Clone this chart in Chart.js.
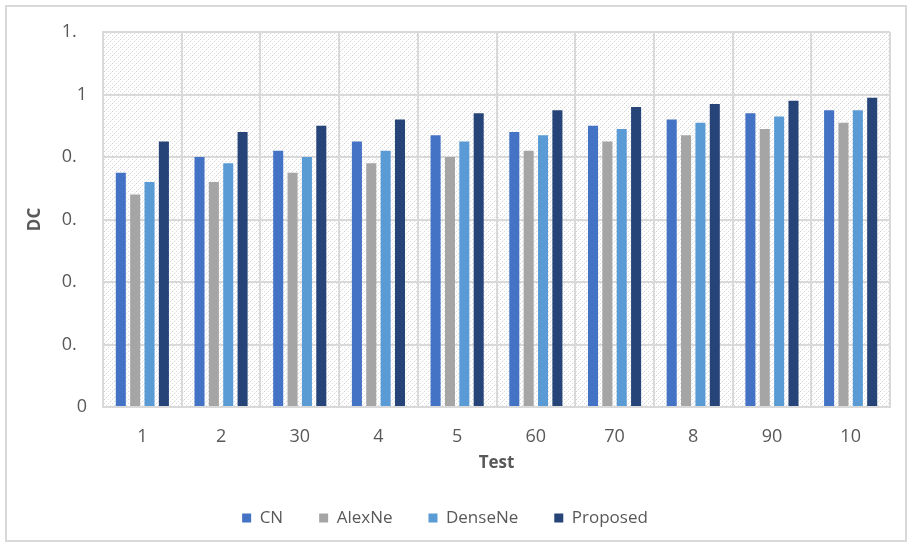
<!DOCTYPE html>
<html>
<head>
<meta charset="utf-8">
<script src="https://cdn.jsdelivr.net/npm/chart.js@4.4.1/dist/chart.umd.min.js"></script>
<style>
  html, body { margin: 0; padding: 0; background: #ffffff; }
  #wrap { width: 912px; height: 546px; position: relative; }
</style>
</head>
<body>
<div id="wrap"><canvas id="c" width="912" height="546"></canvas></div>
<script>
// Categories and series
const categories = ['1', '2', '30', '4', '5', '60', '70', '8', '90', '10'];
const cnValues       = [0.75, 0.80, 0.82, 0.85, 0.87, 0.88, 0.90, 0.92, 0.94, 0.95];
const alexNeValues   = [0.68, 0.72, 0.75, 0.78, 0.80, 0.82, 0.85, 0.87, 0.89, 0.91];
const denseNeValues  = [0.72, 0.78, 0.80, 0.82, 0.85, 0.87, 0.89, 0.91, 0.93, 0.95];
const proposedValues = [0.85, 0.88, 0.90, 0.92, 0.94, 0.95, 0.96, 0.97, 0.98, 0.99];
const seriesNames = ['CN', 'AlexNe', 'DenseNe', 'Proposed'];
// y tick labels, bottom to top
const yTickLabels = ['0', '0.', '0.', '0.', '0.', '1', '1.'];

const TEXT = '#595959';
const GRID = '#D9D9D9';
const FONT = "'Open Sans', 'DejaVu Sans', sans-serif";

// light hatched fill for the plotting area
function makeHatch() {
  const t = document.createElement('canvas');
  t.width = 8; t.height = 8;
  const g = t.getContext('2d');
  g.fillStyle = '#ffffff';
  g.fillRect(0, 0, 8, 8);
  g.fillStyle = '#dadada';
  for (let i = 0; i < 8; i += 2) {
    g.fillRect(i, 7 - i, 1, 1);
    g.fillRect((i + 4) % 8, 7 - i, 1, 1);
  }
  g.fillStyle = '#ececec';
  for (let i = 1; i < 8; i += 2) {
    g.fillRect(i, 7 - i, 1, 1);
  }
  return t;
}

const plotBackground = {
  id: 'plotBackground',
  beforeDraw(chart) {
    const { ctx, chartArea: a } = chart;
    ctx.save();
    // outer frame
    ctx.strokeStyle = GRID;
    ctx.lineWidth = 2;
    ctx.strokeRect(6, 6, 900, 535);
    // hatched plot area
    ctx.fillStyle = ctx.createPattern(makeHatch(), 'repeat');
    ctx.fillRect(a.left, a.top, a.right - a.left, a.bottom - a.top);
    ctx.restore();
  }
};

const LEGEND_HEIGHT = 62.5;
const legendFit = {
  id: 'legendFit',
  beforeInit(chart) {
    const legend = chart.legend;
    const fit = legend.fit;
    legend.fit = function () {
      fit.call(this);
      this.height = LEGEND_HEIGHT;
    };
  }
};

const colors = ['#4472C4', '#A5A5A5', '#5B9BD5', '#264478'];
const values = [cnValues, alexNeValues, denseNeValues, proposedValues];

new Chart(document.getElementById('c'), {
  type: 'bar',
  data: {
    labels: categories,
    datasets: seriesNames.map((name, i) => ({
      label: name,
      data: values[i],
      backgroundColor: colors[i],
      borderWidth: 0,
      barPercentage: 0.7,
      categoryPercentage: 0.73
    }))
  },
  options: {
    responsive: false,
    animation: false,
    devicePixelRatio: 1,
    layout: { padding: { left: 0, right: 22, top: 32, bottom: 10 } },
    plugins: {
      tooltip: { enabled: false },
      legend: {
        position: 'bottom',
        labels: {
          boxWidth: 9,
          boxHeight: 9,
          padding: 36,
          color: TEXT,
          font: { family: FONT, size: 17 }
        }
      }
    },
    scales: {
      x: {
        grid: { color: GRID, lineWidth: 2, drawTicks: false },
        border: { color: GRID, width: 2 },
        ticks: { color: TEXT, font: { family: FONT, size: 18 }, padding: 19 },
        title: {
          display: true, text: 'Test', color: TEXT,
          font: { family: FONT, size: 17, weight: 'bold' },
          padding: { top: 0, bottom: 0 }
        },
        afterFit(s) { s.height = 66.5; }
      },
      y: {
        min: 0, max: 1.2,
        grid: { color: GRID, lineWidth: 2, drawTicks: false },
        border: { color: GRID, width: 2 },
        ticks: {
          stepSize: 0.2,
          color: TEXT,
          padding: 16,
          font: { family: FONT, size: 18 },
          callback: (v, i) => {
            const t = yTickLabels[i];
            return t.endsWith('.') ? t + '\u2007' : t;
          }
        },
        title: {
          display: true, text: 'DC', color: TEXT,
          font: { family: FONT, size: 17, weight: 'bold' },
          padding: { top: 25, bottom: 0 }
        },
        afterFit(s) { s.width = 103; }
      }
    }
  },
  plugins: [plotBackground, legendFit]
});
</script>
</body>
</html>
